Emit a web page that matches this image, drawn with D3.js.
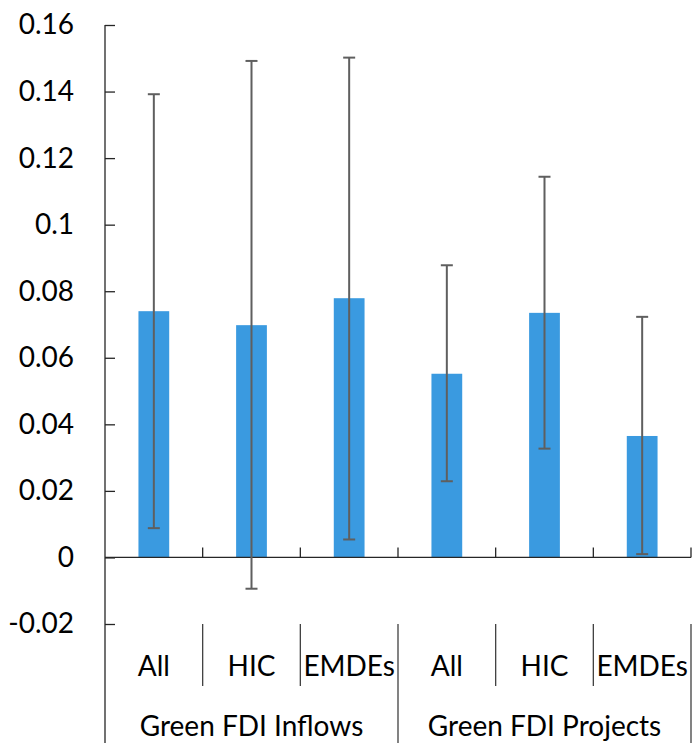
<!DOCTYPE html>
<html>
<head>
<meta charset="utf-8">
<script src="https://cdn.jsdelivr.net/npm/d3@7"></script>
<style>
  html, body { margin: 0; padding: 0; background: #ffffff; }
  svg { display: block; font-family: Lato, "Open Sans", sans-serif; }
</style>
</head>
<body>
<svg id="chart" width="692" height="743"></svg>
<script>
// Sub-categories (one bar each) and their groups
const categories = ["All", "HIC", "EMDEs", "All", "HIC", "EMDEs"];
const groups = ["Green FDI Inflows", "Green FDI Projects"];
const groupOf = [0, 0, 0, 1, 1, 1];

// Point estimates and confidence bounds
const estimates = [0.0740, 0.0698, 0.0779, 0.0552, 0.0735, 0.0365];
const lowerBounds = [0.0088, -0.0094, 0.0054, 0.0229, 0.0327, 0.0010];
const upperBounds = [0.1392, 0.1492, 0.1502, 0.0878, 0.1144, 0.0723];

// Y axis ticks
const yTicks = [-0.02, 0, 0.02, 0.04, 0.06, 0.08, 0.1, 0.12, 0.14, 0.16];
const yTickLabels = ["-0.02", "0", "0.02", "0.04", "0.06", "0.08", "0.1", "0.12", "0.14", "0.16"];

(function () {
  const svg = d3.select("#chart");
  const plotLeft = 105, plotRight = 691, plotTop = 25, plotBottom = 624;
  const fontSize = "28px";

  const x = d3.scaleBand().domain(d3.range(categories.length)).range([plotLeft, plotRight]).padding(0);
  const y = d3.scaleLinear().domain([-0.02, 0.16]).range([plotBottom, plotTop]);

  const axisColor = "#262626";
  const barColor = "#3a9ae0";
  const errColor = "#5f5f5f";

  // Y axis
  const yAxis = d3.axisLeft(y)
    .tickValues(yTicks)
    .tickFormat((d, i) => yTickLabels[i])
    .tickSizeInner(-10)
    .tickSizeOuter(0)
    .tickPadding(31);
  const gy = svg.append("g").attr("transform", `translate(${plotLeft},0)`).call(yAxis);
  gy.select(".domain").remove();
  gy.selectAll(".tick line").attr("stroke", axisColor).attr("stroke-width", 1.3);
  gy.selectAll(".tick text")
    .attr("fill", "#000")
    .style("font-size", fontSize)
    .style("font-family", "Lato, 'Open Sans', sans-serif");

  // Vertical axis line extending down through the category label area
  svg.append("line")
    .attr("x1", plotLeft).attr("x2", plotLeft)
    .attr("y1", plotTop).attr("y2", 743)
    .attr("stroke", axisColor).attr("stroke-width", 1.3);

  // Bars
  const barW = x.bandwidth() * 0.315;
  svg.append("g").selectAll("rect")
    .data(estimates)
    .join("rect")
    .attr("x", (d, i) => x(i) + x.bandwidth() / 2 - barW / 2)
    .attr("width", barW)
    .attr("y", d => y(Math.max(d, 0)))
    .attr("height", d => Math.abs(y(d) - y(0)))
    .attr("fill", barColor);

  // Zero line with upward ticks at category boundaries
  svg.append("line")
    .attr("x1", plotLeft).attr("x2", plotRight)
    .attr("y1", y(0)).attr("y2", y(0))
    .attr("stroke", axisColor).attr("stroke-width", 1.3);
  svg.append("g").selectAll("line")
    .data(d3.range(1, categories.length + 1))
    .join("line")
    .attr("x1", i => plotLeft + i * x.step()).attr("x2", i => plotLeft + i * x.step())
    .attr("y1", y(0)).attr("y2", y(0) - 10)
    .attr("stroke", axisColor).attr("stroke-width", 1.3);

  // Error bars
  const capW = 12;
  const eg = svg.append("g").attr("stroke", errColor).attr("stroke-width", 2);
  estimates.forEach((d, i) => {
    const cx = x(i) + x.bandwidth() / 2;
    eg.append("line").attr("x1", cx).attr("x2", cx)
      .attr("y1", y(lowerBounds[i])).attr("y2", y(upperBounds[i]));
    eg.append("line").attr("x1", cx - capW / 2).attr("x2", cx + capW / 2)
      .attr("y1", y(upperBounds[i])).attr("y2", y(upperBounds[i]));
    eg.append("line").attr("x1", cx - capW / 2).attr("x2", cx + capW / 2)
      .attr("y1", y(lowerBounds[i])).attr("y2", y(lowerBounds[i]));
  });

  // Category label area: separators between sub-categories and groups
  const sepColor = "#404040";
  const subSepBottom = 686;
  d3.range(1, categories.length).forEach(i => {
    const isGroupEdge = groupOf[i] !== groupOf[i - 1];
    svg.append("line")
      .attr("x1", plotLeft + i * x.step()).attr("x2", plotLeft + i * x.step())
      .attr("y1", plotBottom).attr("y2", isGroupEdge ? 743 : subSepBottom)
      .attr("stroke", sepColor).attr("stroke-width", 1.3);
  });
  svg.append("line")
    .attr("x1", plotRight).attr("x2", plotRight)
    .attr("y1", plotBottom).attr("y2", 743)
    .attr("stroke", sepColor).attr("stroke-width", 1.3);

  // Sub-category labels
  svg.append("g").selectAll("text")
    .data(categories)
    .join("text")
    .attr("x", (d, i) => x(i) + x.bandwidth() / 2)
    .attr("y", 665)
    .attr("text-anchor", "middle")
    .attr("dominant-baseline", "central")
    .attr("fill", "#000")
    .style("font-size", fontSize)
    .text(d => d);

  // Group labels
  svg.append("g").selectAll("text")
    .data(groups)
    .join("text")
    .attr("x", (g, gi) => {
      const idx = d3.range(categories.length).filter(i => groupOf[i] === gi);
      return (x(idx[0]) + x(idx[idx.length - 1]) + x.bandwidth()) / 2;
    })
    .attr("y", 725)
    .attr("text-anchor", "middle")
    .attr("dominant-baseline", "central")
    .attr("fill", "#000")
    .style("font-size", fontSize)
    .text(d => d);
})();
</script>
</body>
</html>
